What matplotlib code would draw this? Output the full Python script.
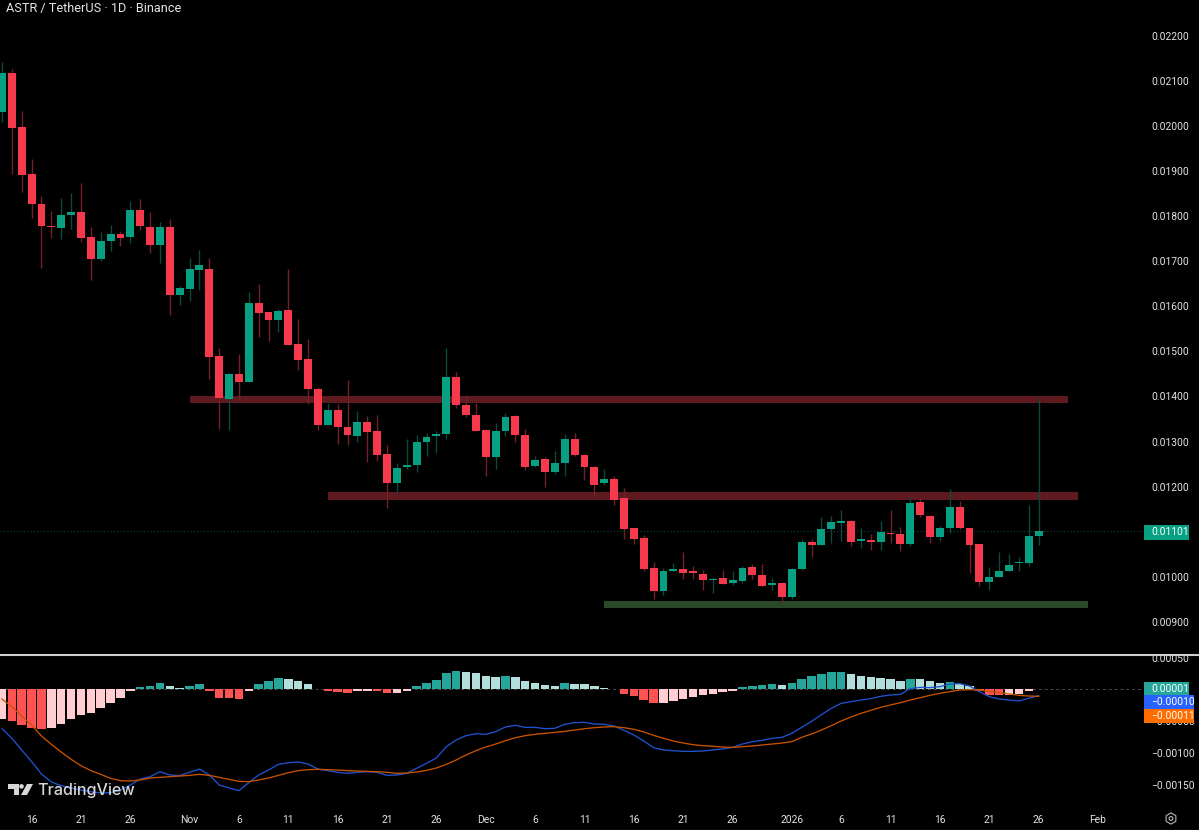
import matplotlib
matplotlib.use("Agg")
import matplotlib.pyplot as plt
import matplotlib.patches as patches
import numpy as np

# daily candles from 13 Oct 2025, prices in units of 0.00001 USDT
opens = [2031,2118,1997,1893,1827,1779,1774,1803,1808,1753,
         1705,1745,1761,1754,1814,1775,1736,1775,1624,1638,
         1680,1682,1489,1395,1449,1433,1607,1587,1570,1591,
         1516,1482,1416,1337,1370,1333,1313,1344,1323,1272,
         1209,1243,1249,1298,1312,1317,1443,1380,1358,1325,
         1266,1324,1356,1315,1246,1261,1232,1252,1306,1271,
         1244,1208,1217,1174,1108,1086,1020,969,1012,1018,
         1010,1007,992,997,986,991,1021,1004,983,986,
         955,1017,1077,1071,1106,1120,1123,1079,1082,1078,
         1097,1094,1073,1165,1136,1089,1108,1155,1108,1072,
         989,1000,1013,1030,1030,1090]
highs = [2141,2125,2033,1926,1844,1812,1839,1850,1873,1775,
         1764,1780,1766,1833,1838,1808,1786,1793,1645,1706,
         1724,1706,1508,1453,1494,1632,1649,1588,1595,1682,
         1571,1527,1420,1385,1383,1437,1368,1357,1358,1292,
         1252,1305,1315,1318,1323,1508,1455,1403,1386,1327,
         1341,1364,1360,1328,1268,1266,1279,1316,1319,1272,
         1246,1239,1224,1198,1109,1093,1033,1020,1030,1055,
         1025,1015,1000,1015,1013,1023,1029,1028,997,988,
         1019,1084,1083,1133,1135,1148,1126,1108,1095,1124,
         1148,1110,1176,1174,1137,1113,1195,1168,1109,1073,
         1021,1055,1050,1045,1159,1396]
lows = [2009,1893,1853,1796,1685,1752,1749,1772,1743,1658,
        1700,1723,1734,1741,1768,1717,1695,1581,1603,1612,
        1636,1438,1328,1326,1392,1431,1532,1524,1544,1514,
        1459,1383,1326,1337,1295,1292,1298,1255,1258,1152,
        1187,1239,1233,1267,1274,1306,1375,1355,1324,1224,
        1239,1313,1298,1237,1244,1200,1229,1224,1268,1215,
        1182,1204,1159,1084,1073,1014,950,959,1012,995,
        995,972,965,984,982,986,995,980,971,944,
        952,1015,1045,1070,1074,1080,1069,1063,1060,1060,
        1076,1057,1069,1132,1076,1080,1098,1107,1009,980,
        971,1000,1012,1012,1024,1071]
closes = [2118,1995,1892,1827,1779,1775,1802,1808,1752,1705,
          1745,1760,1752,1813,1777,1736,1775,1625,1640,1682,
          1691,1488,1397,1449,1432,1607,1586,1570,1590,1514,
          1481,1416,1337,1370,1332,1315,1344,1321,1270,1209,
          1242,1249,1298,1310,1317,1443,1380,1360,1324,1266,
          1323,1354,1315,1244,1260,1233,1252,1306,1270,1243,
          1204,1218,1170,1107,1085,1018,969,1013,1018,1008,
          1009,992,996,985,992,1019,1004,980,986,955,
          1018,1077,1071,1106,1122,1122,1078,1082,1077,1099,
          1094,1073,1163,1137,1089,1108,1155,1108,1071,989,
          1000,1012,1027,1031,1090,1101]

# MACD pane, same units
histogram = [-47,-50,-56,-60,-63,-60,-54,-46,-41,-37,
             -29,-21,-13,-3,4,6,11,5,3,5,
             9,-2,-13,-14,-15,-2,8,13,18,16,
             14,9,0,-2,-4,-5,-3,-2,-3,-6,
             -5,-2,5,11,15,26,29,28,26,21,
             19,21,19,13,11,7,6,10,9,8,
             5,3,0,-7,-11,-17,-22,-21,-18,-15,
             -12,-9,-7,-4,-2,4,6,7,8,7,
             11,17,21,25,27,28,25,22,19,18,
             17,14,17,16,13,11,12,9,5,-2,
             -8,-9,-8,-7,-3,1]
macd_line = [-61.8,-77.0,-95.4,-113.8,-133.3,-145.9,-151.7,-155.3,-158.5,-161.1,
             -163.2,-162.7,-158.5,-150.6,-141.2,-137.5,-129.6,-134.8,-135.9,-130.6,
             -125.4,-134.8,-150.6,-155.3,-159.6,-146.9,-134.8,-127.0,-118.0,-115.4,
             -114.3,-117.5,-125.4,-128.0,-130.6,-132.2,-130.6,-129.6,-130.6,-135.4,
             -134.8,-132.2,-124.3,-116.4,-108.0,-90.2,-79.6,-72.8,-69.7,-70.7,
             -66.5,-59.1,-56.5,-59.7,-59.7,-61.8,-61.2,-54.9,-52.3,-51.8,
             -54.4,-54.9,-57.6,-64.4,-71.8,-81.2,-91.7,-95.4,-96.5,-97.5,
             -97.5,-97.0,-95.4,-93.8,-91.2,-86.0,-82.3,-80.2,-77.0,-75.4,
             -69.1,-59.7,-50.2,-39.7,-29.7,-21.8,-19.2,-16.6,-14.5,-10.8,
             -8.7,-7.6,1.3,3.4,2.9,4.5,8.7,9.2,5.5,-3.4,
             -11.3,-15.0,-16.6,-18.1,-13.9,-9.7]
signal_line = [-15.0,-27.1,-41.8,-56.0,-73.3,-86.5,-98.6,-110.1,-120.1,-128.0,
               -133.8,-140.1,-143.8,-144.3,-142.7,-139.6,-138.5,-137.5,-136.4,-135.4,
               -133.8,-135.4,-138.5,-141.7,-144.8,-145.4,-142.7,-139.6,-135.4,-131.2,
               -128.0,-126.4,-125.9,-126.4,-127.0,-128.0,-128.5,-129.1,-129.6,-130.6,
               -132.2,-131.7,-130.1,-127.5,-123.8,-118.0,-111.2,-103.3,-96.5,-90.7,
               -86.0,-80.7,-76.0,-72.8,-70.7,-69.1,-67.6,-66.0,-63.9,-61.8,
               -60.2,-59.1,-58.6,-60.2,-62.8,-67.0,-72.3,-77.0,-81.2,-84.4,
               -87.0,-88.6,-89.6,-90.7,-91.2,-90.2,-89.1,-87.5,-86.0,-84.4,
               -82.3,-75.4,-70.2,-63.9,-57.0,-49.7,-43.4,-37.6,-32.9,-28.1,
               -24.4,-20.8,-16.6,-12.9,-9.2,-6.0,-3.4,-0.8,-0.3,-0.8,
               -2.9,-5.0,-7.1,-9.2,-10.3,-10.8]

# hand drawn zones: first bar, last bar, top and bottom price
zone_starts = [19, 33, 61]
zone_ends = [108, 109, 110]
zone_tops = [1402, 1188, 947]
zone_bottoms = [1385, 1170, 930]
zone_colors = ["#5f1a20", "#5f1a20", "#29492a"]

date_ticks = [3, 8, 13, 19, 24, 29, 34, 39, 44, 49, 54, 59, 64, 69, 74, 80, 85, 90, 95, 100, 105, 111]
date_labels = ["16", "21", "26", "Nov", "6", "11", "16", "21", "26", "Dec", "6", "11",
               "16", "21", "26", "2026", "6", "11", "16", "21", "26", "Feb"]
# 0.01100 sits under the last price tag in the reference, so it is left out
price_ticks = [900, 1000, 1200, 1300, 1400, 1500, 1600, 1700, 1800, 1900, 2000, 2100, 2200]
macd_ticks = [50, -50, -100, -150]

UNIT = 1e-5
GREEN = "#07a082"
RED = "#f7394e"
WICK_GREEN = "#0b4a3d"
WICK_RED = "#74202a"
TEXT = "#e4e4e4"
FONT = ["Roboto", "DejaVu Sans"]
LABEL_SIZE = 7.4

W, H = 1199, 830
plt.rcParams["font.family"] = FONT


def px_axes(fig, left, top, right, bottom):
    return fig.add_axes([left / W, 1 - bottom / H, (right - left) / W, (bottom - top) / H])


fig = plt.figure(figsize=(W / 100, H / 100), dpi=100, facecolor="black")
ax = px_axes(fig, 0, 0, 1143, 654)
ax2 = px_axes(fig, 0, 656, 1143, 806)

x = np.arange(len(opens))
o, h, l, c = [np.array(a) * UNIT for a in (opens, highs, lows, closes)]
up = c >= o
xlim = (-0.2, 115.57)

# price pane
for i in range(len(zone_starts)):
    ax.add_patch(patches.Rectangle((zone_starts[i], zone_bottoms[i] * UNIT),
                                   zone_ends[i] - zone_starts[i],
                                   (zone_tops[i] - zone_bottoms[i]) * UNIT,
                                   fc=zone_colors[i], ec="none", zorder=1))
ax.axhline(c[-1], color="#0c4a3c", lw=0.8, ls=(0, (1, 2)), zorder=1)
ax.vlines(x[up], l[up], h[up], color=WICK_GREEN, lw=1, zorder=2)
ax.vlines(x[~up], l[~up], h[~up], color=WICK_RED, lw=1, zorder=2)
bottoms = np.minimum(o, c)
heights = np.maximum(np.abs(c - o), 4 * UNIT)
ax.bar(x, heights, bottom=bottoms, width=0.8, color=[GREEN if u else RED for u in up], zorder=3)

ax.set_xlim(*xlim)
ax.set_ylim(0.00829, 0.02279)
ax.yaxis.tick_right()
ax.set_yticks(np.array(price_ticks) * UNIT)
ax.set_yticklabels(["%.5f" % (t * UNIT) for t in price_ticks])
ax.set_xticks([])

# macd pane
hist = np.array(histogram) * UNIT
colors = []
for i, v in enumerate(hist):
    prev = hist[i - 1] if i else v
    if v >= 0:
        colors.append("#26a69a" if v > prev else "#b2dfdb")
    else:
        colors.append("#ff5252" if v < prev else "#ffcdd2")
ax2.axhline(hist[-1], color="#4a4a4a", lw=0.7, ls=(0, (3, 3)), zorder=1)
ax2.bar(x, hist, width=0.86, color=colors, zorder=2)
ax2.plot(x, np.array(macd_line) * UNIT, color="#2052cf", lw=0.95, zorder=3)
ax2.plot(x, np.array(signal_line) * UNIT, color="#c85200", lw=0.95, zorder=3)
ax2.set_xlim(*xlim)
ax2.set_ylim(-183.7 * UNIT, 52.8 * UNIT)
ax2.yaxis.tick_right()
ax2.set_yticks(np.array(macd_ticks) * UNIT)
ax2.set_yticklabels([("%.5f" % (t * UNIT)).replace("-", "\u2212") for t in macd_ticks])
ax2.set_xticks(date_ticks)
ax2.set_xticklabels(date_labels)

for a in (ax, ax2):
    a.set_facecolor("black")
    for s in a.spines.values():
        s.set_visible(False)
    a.tick_params(axis="y", length=0, pad=5.8, colors=TEXT, labelsize=LABEL_SIZE)
    a.tick_params(axis="x", length=0, pad=6.5, colors=TEXT, labelsize=LABEL_SIZE)

# overlay in pixel space for title, tags and logo
ov = fig.add_axes([0, 0, 1, 1], zorder=10)
ov.set_xlim(0, W)
ov.set_ylim(H, 0)
ov.axis("off")
ov.patch.set_alpha(0)

ov.plot([0, W], [655, 655], color="#cfcfcf", lw=1.5)
ov.plot([0, W], [829.5, 829.5], color="#2b2b2b", lw=1)
ov.text(6, 8.5, "ASTR / TetherUS \u00b7 1D \u00b7 Binance", color=TEXT, fontsize=9.2, va="center", ha="left")

tag_rights = [1189, 1189, 1194, 1194]
tag_tops = [525, 682, 695, 709]
tag_bottoms = [539.5, 695, 709, 723]
tag_colors = [GREEN, "#26a69a", "#2962ff", "#ff6d00"]
tag_texts = ["%.5f" % c[-1], "0.00001", "\u22120.00010", "\u22120.00011"]
for i in range(4):
    ov.add_patch(patches.Rectangle((1144, tag_tops[i]), tag_rights[i] - 1144,
                                   tag_bottoms[i] - tag_tops[i], fc=tag_colors[i], ec="none"))
    ov.text(1151, (tag_tops[i] + tag_bottoms[i]) / 2, tag_texts[i], color="white",
            fontsize=LABEL_SIZE, va="center", ha="left")

# TradingView mark
logo = "#d6d6d6"
ov.add_patch(patches.Polygon([(8, 784), (18.5, 784), (18.5, 795), (13.5, 795), (13.5, 788.5), (8, 788.5)], fc=logo, ec="none"))
ov.add_patch(patches.Circle((21.5, 786.4), 2.3, fc=logo, ec="none"))
ov.add_patch(patches.Polygon([(27, 784), (33, 784), (27, 795), (21, 795)], fc=logo, ec="none"))
ov.text(37.5, 790.5, "TradingView", color=logo, fontsize=11.6, fontweight="medium",
        family=["Inter", "DejaVu Sans"], va="center", ha="left")

# settings icon
ov.add_patch(patches.RegularPolygon((1171, 818.5), 6, radius=5.6, fc="none", ec="#b8b8b8", lw=0.8))
ov.add_patch(patches.Circle((1171, 818.5), 1.9, fc="none", ec="#b8b8b8", lw=0.8))

fig.savefig("out.png", dpi=100, facecolor="black")
